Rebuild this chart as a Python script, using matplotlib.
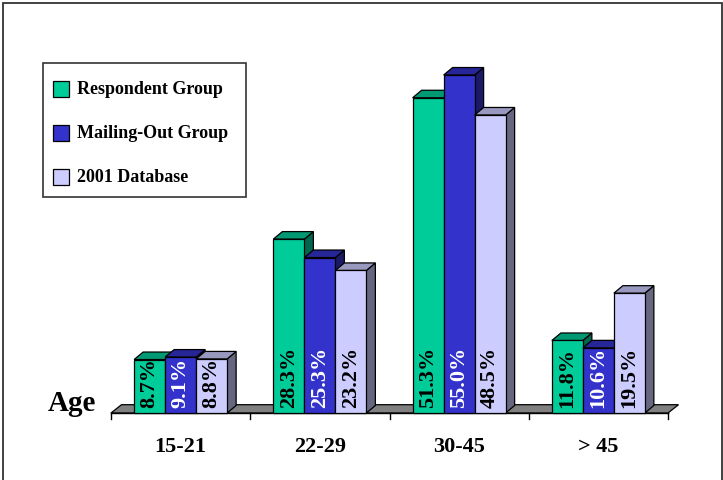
import matplotlib
matplotlib.use("Agg")
import matplotlib.pyplot as plt
from matplotlib.patches import Polygon, Rectangle

categories = ['15-21', '22-29', '30-45', '> 45']
series_names = ['Respondent Group', 'Mailing-Out Group', '2001 Database']
respondent = [8.7, 28.3, 51.3, 11.8]
mailing = [9.1, 25.3, 55.0, 10.6]
database = [8.8, 23.2, 48.5, 19.5]

front_colors = ['#00CC99', '#3333CC', '#CCCCFF']
top_colors = ['#009973', '#262699', '#9999BF']
side_colors = ['#00664D', '#1A1A66', '#666680']
label_colors = ['black', 'white', 'black']

W, H = 723, 481
fig = plt.figure(figsize=(W / 100, H / 100), dpi=100)
ax = fig.add_axes([0, 0, 1, 1])
ax.axis('off')

# pixel geometry -> data scale
x0px, x4px, base_py, pxpp = 111, 668, 414, 6.145
ppu = (x4px - x0px) / 4.0
ax.set_xlim((0 - x0px) / ppu, (W - x0px) / ppu)
ax.set_ylim((base_py - H) / pxpp, base_py / pxpp)

serif = 'Liberation Serif'

def px2fig(px, py):
    return px / W, 1 - py / H

# outer border
fig.patches.append(Rectangle(px2fig(3, 490), 719 / W, 486 / H, transform=fig.transFigure,
                             fill=False, edgecolor='#333333', linewidth=1.3))

# floor
fdx, fdy = 10.5 / ppu, 8.3 / pxpp
floor = Polygon([(0, 0), (4, 0), (4 + fdx, fdy), (fdx, fdy)], closed=True,
                facecolor='#808080', edgecolor='black', linewidth=0.9, zorder=1)
ax.add_patch(floor)
ax.plot([0, 4], [0, 0], color='black', linewidth=1.0, zorder=2)
for i in range(5):
    ax.plot([i, i], [0, -6 / pxpp], color='black', linewidth=1.0, zorder=2)

# bars
bw = 31 / ppu
bdx, bdy = 9 / ppu, 7.5 / pxpp
series = [respondent, mailing, database]
z = 3
for ci in range(len(categories)):
    center = ci + 0.5
    for si, vals in enumerate(series):
        v = vals[ci]
        left = center + (si - 1.5) * bw
        right = left + bw
        front = Polygon([(left, 0), (right, 0), (right, v), (left, v)], closed=True,
                        facecolor=front_colors[si], edgecolor='black', linewidth=0.9, zorder=z)
        top = Polygon([(left, v), (right, v), (right + bdx, v + bdy), (left + bdx, v + bdy)],
                      closed=True, facecolor=top_colors[si], edgecolor='black',
                      linewidth=0.9, zorder=z)
        side = Polygon([(right, 0), (right + bdx, bdy), (right + bdx, v + bdy), (right, v)],
                       closed=True, facecolor=side_colors[si], edgecolor='black',
                       linewidth=0.9, zorder=z)
        ax.add_patch(side)
        ax.add_patch(top)
        ax.add_patch(front)
        ax.text(left + bw / 2, 6 / pxpp, f'{v:.1f}%', rotation=90, ha='center', va='bottom',
                fontsize=16, fontweight='bold', family=serif, color=label_colors[si],
                zorder=z + 0.5)
        z += 1
    ax.text(center, (base_py - 447) / pxpp, categories[ci], ha='center', va='center',
            fontsize=16, fontweight='bold', family=serif, color='black')

ax.text((48 - x0px) / ppu, (base_py - 411) / pxpp, 'Age', ha='left', va='baseline',
        fontsize=21, fontweight='bold', family=serif, color='black')

# legend (manual)
lx0, ly0, lx1, ly1 = 42.5, 63.5, 246, 197.5
fx, fy = px2fig(lx0, ly1)
fig.patches.append(Rectangle((fx, fy), (lx1 - lx0) / W, (ly1 - ly0) / H, transform=fig.transFigure,
                             facecolor='white', edgecolor='#333333', linewidth=1.2, zorder=10))
clip = Rectangle(px2fig(lx0, ly1), (228 - lx0) / W, (ly1 - ly0) / H, transform=fig.transFigure,
                 facecolor='none', edgecolor='none')
entry_y = [90, 134, 178]
for si, name in enumerate(series_names):
    cy = entry_y[si]
    mx, my = px2fig(53, cy + 8)
    fig.patches.append(Rectangle((mx, my), 16 / W, 16 / H, transform=fig.transFigure,
                                 facecolor=front_colors[si], edgecolor='black', linewidth=0.9,
                                 zorder=11))
    tx, ty = px2fig(77, cy)
    t = fig.text(tx, ty, name, ha='left', va='center', fontsize=13, fontweight='bold',
                 family=serif, color='black', zorder=12)
    t.set_clip_path(clip)

fig.savefig('out.png', dpi=100, facecolor='white')
